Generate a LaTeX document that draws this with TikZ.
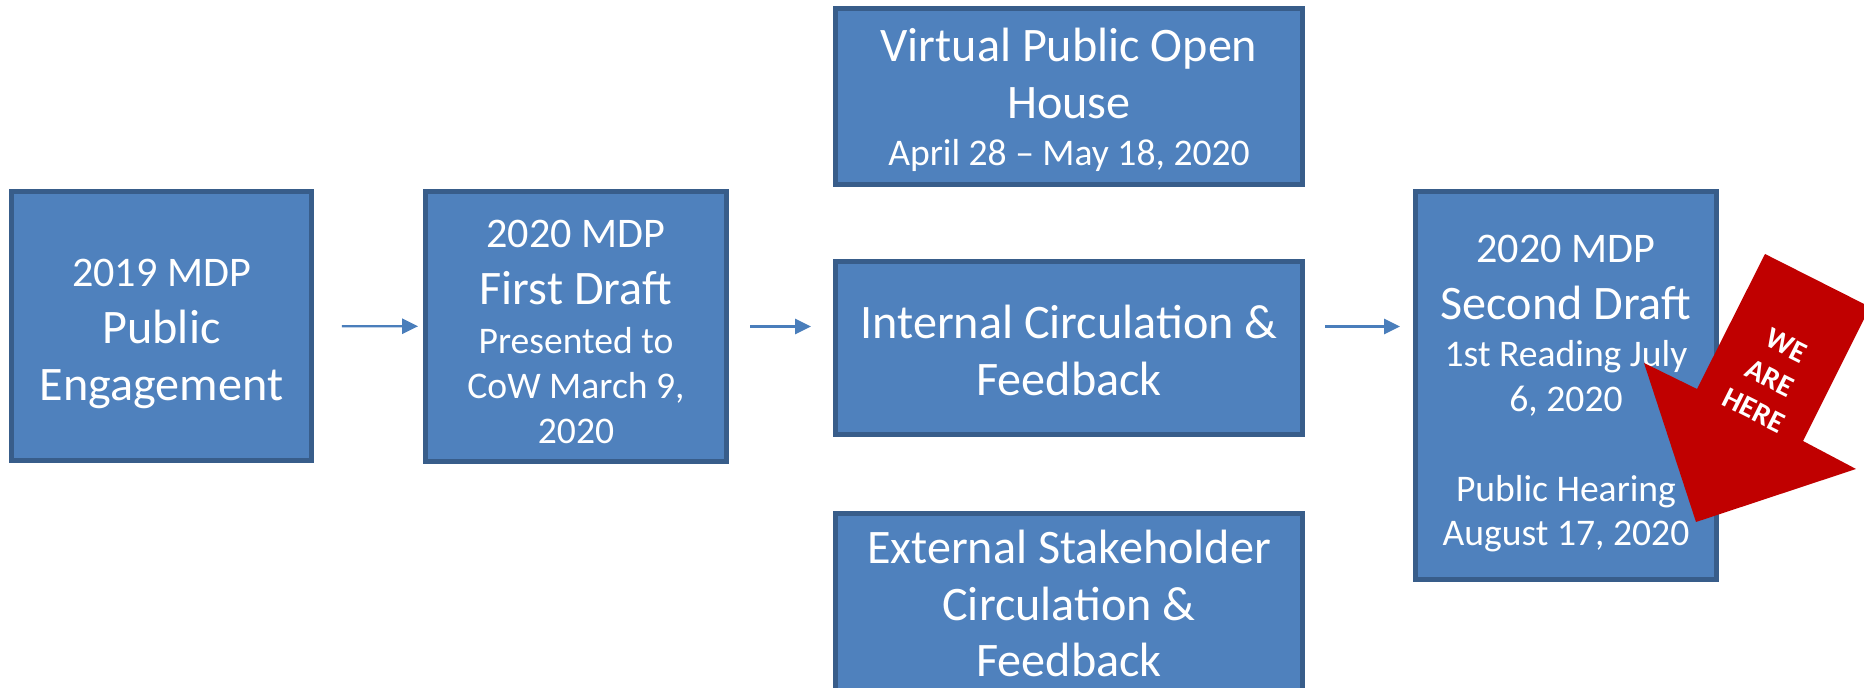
\documentclass[tikz,border=0pt]{standalone}
\usepackage{fontspec}
\setmainfont{Carlito}
\usepackage{xcolor}
\usepackage{tikz}
\usetikzlibrary{arrows.meta,calc}
\definecolor{boxfill}{HTML}{4F81BD}
\definecolor{boxline}{HTML}{385D8A}
\definecolor{flowblue}{HTML}{4A7EBB}
\definecolor{herered}{HTML}{C00000}
\newcommand{\leadsz}{\fontsize{12}{16.2}\selectfont}
\newcommand{\mainsz}{\fontsize{13.7}{16.2}\selectfont}
\newcommand{\subsz}{\fontsize{10.7}{12.8}\selectfont}
\newcommand{\lift}[1]{\rule{0pt}{#1}}

\begin{document}
\begin{tikzpicture}[x=1cm,y=1cm,
  stage/.style={draw=boxline,fill=boxfill,line width=1.42pt,text=white,align=center,font=\mainsz,inner sep=0pt},
  flow/.style={draw=flowblue,line width=0.6pt,-{Triangle[length=4.5pt,width=4.3pt]}}]
\useasboundingbox (0,0) rectangle (18.64,6.88);
\clip (0,0) rectangle (18.64,6.88);
\node[stage,minimum width=3cm,minimum height=2.69cm] (engage) at (1.615,3.62){\lift{12.5pt}{\leadsz 2019 MDP}\\Public\\Engagement};
\node[stage,minimum width=3.01cm,minimum height=2.7cm] (draft1) at (5.76,3.615){\lift{11.1pt}{\leadsz 2020 MDP}\\First Draft\\[-2.3pt]{\subsz Presented to}\\[-3.4pt]{\subsz CoW March 9,}\\[-3.4pt]{\subsz 2020}};
\node[stage,minimum width=4.67cm,minimum height=1.76cm] (openhouse) at (10.69,5.915){\lift{11.4pt}Virtual Public Open\\House\\[-2.8pt]{\subsz April 28 -- May 18, 2020}};
\node[stage,minimum width=4.67cm,minimum height=1.73cm] (internal) at (10.69,3.40){\lift{11pt}Internal Circulation \&\\Feedback};
\node[stage,minimum width=4.67cm,minimum height=1.8cm] (external) at (10.69,0.845){External Stakeholder\\Circulation \&\\Feedback};
\node[stage,minimum width=3.01cm,minimum height=3.88cm] (draft2) at (15.66,3.025){\lift{12.5pt}{\leadsz 2020 MDP}\\Second Draft\\[-2.8pt]{\subsz 1st Reading July}\\[-3.4pt]{\subsz 6, 2020}\\[9.4pt]{\subsz Public Hearing}\\[-3.6pt]{\subsz August 17, 2020}};
\draw[flow,shorten <=0.28cm,shorten >=0.05cm] (engage) -- (draft1);
\draw[flow,shorten <=0.21cm,shorten >=0.22cm] (draft1.east) -- (draft1.east -| internal.west);
\draw[flow,shorten <=0.2cm,shorten >=0.13cm] (internal.east |- draft1.east) -- (draft2.west |- draft1.east);
\fill[herered] (17.65,4.34)--(18.70,3.81)--(18.03,2.47)--(18.56,2.19)--(16.96,1.66)--(16.44,3.25)--(16.97,2.99)--cycle;
\node[text=white,font=\fontsize{8.5}{10.3}\selectfont\bfseries,align=center,rotate=-26.5] (here) at (17.70,3.10){WE\\ARE\\HERE};
\end{tikzpicture}
\end{document}
